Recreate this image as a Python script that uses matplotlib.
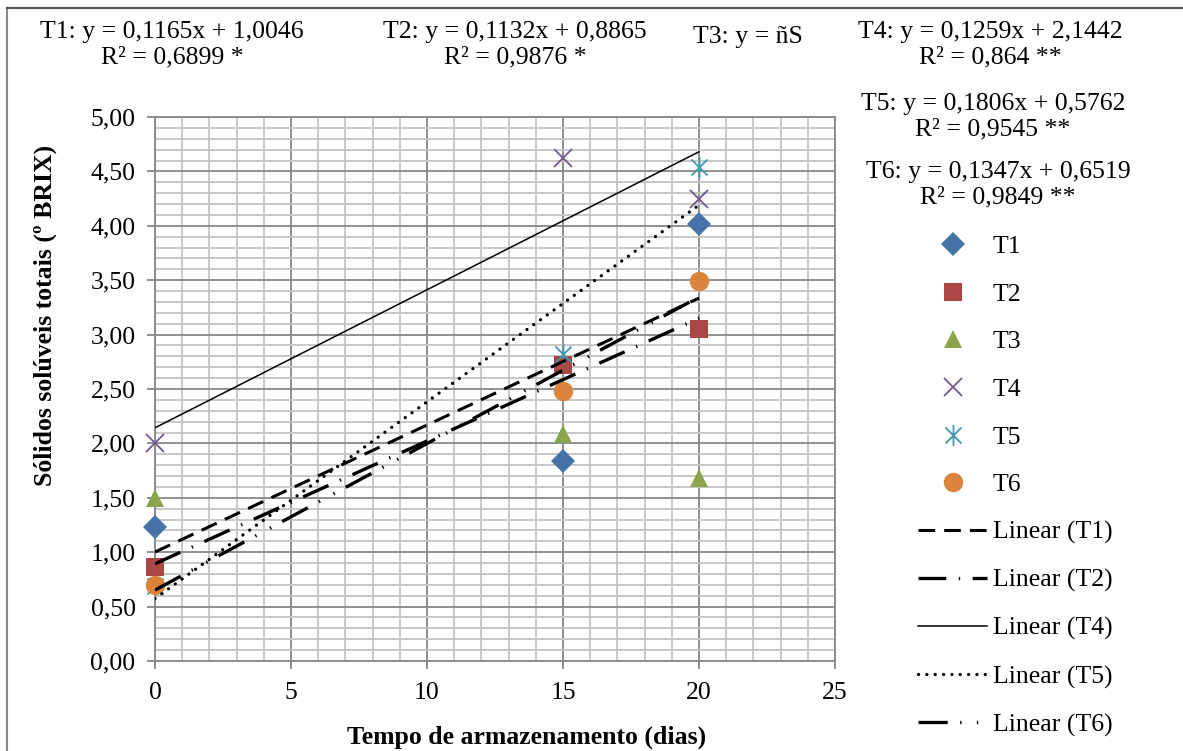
import numpy as np
import matplotlib.pyplot as plt
from matplotlib.path import Path
from matplotlib.lines import Line2D
from matplotlib.ticker import MultipleLocator, FuncFormatter

plt.rcParams['font.family'] = ['Liberation Serif', 'DejaVu Serif']
plt.rcParams['lines.scale_dashes'] = False

# data
dias = np.array([0, 15, 20])
t1 = np.array([1.23, 1.84, 4.02])
t2 = np.array([0.86, 2.72, 3.05])
t3 = np.array([1.50, 2.09, 1.68])
t4 = np.array([2.00, 4.62, 4.25])
t5 = np.array([0.69, 2.82, 4.54])
t6 = np.array([0.70, 2.48, 3.49])

names = ["T1", "T2", "T3", "T4", "T5", "T6"]
series = [t1, t2, t3, t4, t5, t6]
colors = ["#4572A7", "#AA4643", "#89A54E", "#71588F", "#4198AF", "#DB843D"]

equations = [
    "T1: y = 0,1165x + 1,0046\nR² = 0,6899 *",
    "T2: y = 0,1132x + 0,8865\nR² = 0,9876 *",
    "T3: y = ñS",
    "T4: y = 0,1259x + 2,1442\nR² = 0,864 **",
    "T5: y = 0,1806x + 0,5762\nR² = 0,9545 **",
    "T6: y = 0,1347x + 0,6519\nR² = 0,9849 **",
]

# asterisk marker (x plus vertical bar)
star = Path([(-1, -1), (1, 1), (-1, 1), (1, -1), (0, -1.3), (0, 1.3)],
            [Path.MOVETO, Path.LINETO, Path.MOVETO, Path.LINETO, Path.MOVETO, Path.LINETO])
markers = ["D", "s", "^", "x", star, "o"]
msizes = [12, 13, 13, 13, 15, 14]

W, H = 1183, 751
FS = 18.5
fig = plt.figure(figsize=(W / 100, H / 100), dpi=100)
ax = fig.add_axes([155 / W, 1 - 661 / H, (835 - 155) / W, (661 - 117) / H])

handles = []
for name, y, c, m, ms in zip(names, series, colors, markers, msizes):
    h, = ax.plot(dias, y, linestyle="none", marker=m, markersize=ms, color=c,
                 markerfacecolor=c if m not in ("x", star) else "none",
                 markeredgecolor=c, markeredgewidth=1.3 if m in ("x", star) else 0,
                 label=name, zorder=3, clip_on=False)
    handles.append(h)

# linear trend lines
trend = {
    "T1": dict(dashes=(12, 6.5), lw=2.2, color="black"),
    "T2": dict(dashes=(20, 9, 1, 9), lw=2.4, color="black"),
    "T4": dict(linestyle="-", lw=1.1, color="black"),
    "T5": dict(dashes=(0.01, 6), lw=2.4, color="black", dash_capstyle="round"),
    "T6": dict(dashes=(21, 9, 1, 11, 1, 9), lw=2.4, color="black"),
}
xs = np.array([0, 20])
for name, y in zip(names, series):
    if name not in trend:
        continue
    b, a = np.polyfit(dias, y, 1)
    h, = ax.plot(xs, a + b * xs, label="Linear (%s)" % name, zorder=4, **trend[name])
    handles.append(h)

ax.set_xlim(0, 25)
ax.set_ylim(0, 5)
ax.xaxis.set_major_locator(MultipleLocator(5))
ax.xaxis.set_minor_locator(MultipleLocator(1))
ax.yaxis.set_major_locator(MultipleLocator(0.5))
ax.yaxis.set_minor_locator(MultipleLocator(0.1))
ax.yaxis.set_major_formatter(FuncFormatter(lambda v, p: ("%.2f" % v).replace(".", ",")))
ax.grid(which="major", color="#878787", lw=1.3, zorder=0)
ax.grid(which="minor", color="#c4c4c4", lw=1.3, zorder=0)
ax.set_axisbelow(True)
ax.tick_params(which="major", direction="out", length=6, width=1.3, color="#878787",
               labelsize=FS, pad=8)
ax.tick_params(which="minor", length=0)
ax.tick_params(axis="x", pad=9)
for s in ax.spines.values():
    s.set_color("#878787")
    s.set_linewidth(1.3)

fig.text(527 / W, 1 - 737 / H, "Tempo de armazenamento (dias)", fontsize=FS,
         fontweight="bold", ha="center", va="center")
fig.text(45 / W, 1 - 315 / H, "Sólidos solúveis totais (º BRIX)", fontsize=FS,
         fontweight="bold", ha="center", va="center", rotation=90)

# equation labels
eq_pos = [(172, 45), (515, 45), (748, 37), (990, 45), (993, 117), (998, 185)]
for txt, (px, py) in zip(equations, eq_pos):
    fig.text(px / W, 1 - py / H, txt, ha="center", va="center", fontsize=FS,
             linespacing=1.2)

fig.legend(handles=handles, loc="upper left", bbox_to_anchor=(918 / W, 1 - 235 / H),
           frameon=False, fontsize=FS, handlelength=2.7, handletextpad=0.22,
           labelspacing=0.96, borderaxespad=0, borderpad=0)

# outer border (left and top)
fig.add_artist(Line2D([7 / W, 7 / W], [0, 1 - 8 / H], color="#888888", lw=1.5))
fig.add_artist(Line2D([7 / W, 1], [1 - 8 / H, 1 - 8 / H], color="#555555", lw=1.5))

fig.savefig("out.png", dpi=100)
